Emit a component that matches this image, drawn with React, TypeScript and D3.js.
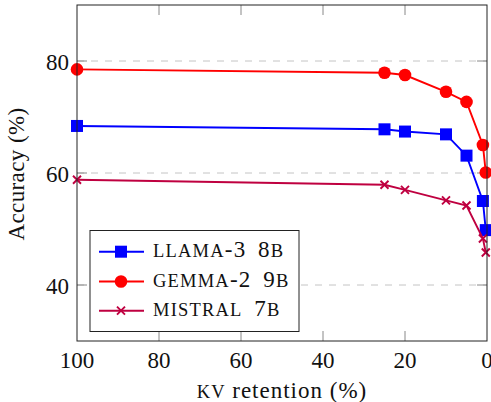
import React from "react";
import * as d3 from "d3";

const retention = [100, 25, 20, 10, 5, 1, 0.3];
const llama = [68.4, 67.8, 67.4, 66.9, 63.1, 55.0, 49.8];
const gemma = [78.5, 77.9, 77.5, 74.5, 72.7, 65.0, 60.1];
const mistral = [58.8, 57.9, 57.0, 55.1, 54.2, 48.3, 45.8];
const xTicks = [100, 80, 60, 40, 20, 0];
const yTicks = [40, 60, 80];
const seriesNames = ["LLAMA-3 8B", "GEMMA-2 9B", "MISTRAL 7B"];

const W = 491, H = 402;
const L = 77, R = 487, T = 5, B = 341;
const FONT = "Liberation Serif";
const FS = 23;
const SC = 18.5;

// render uppercase letters as small caps, other chars at full size; widen spaces
function smallCaps(str: string, wordGap: number, ls: number) {
  const parts: { t: string; sc: boolean }[] = [];
  for (const ch of str) {
    const sc = /[A-Z]/.test(ch);
    const last = parts[parts.length - 1];
    if (last && last.sc === sc && ch !== " " && !last.t.endsWith(" ")) last.t += ch;
    else parts.push({ t: ch, sc });
  }
  return parts.map((p, i) =>
    p.t === " " ? (
      <tspan key={i} dx={wordGap}>
        {" "}
      </tspan>
    ) : (
      <tspan key={i} fontSize={p.sc ? SC : FS} letterSpacing={ls}>
        {p.t}
      </tspan>
    )
  );
}

export default function App() {
  const x = d3.scaleLinear().domain([100, 0]).range([L, R]);
  const y = d3.scaleLinear().domain([30, 90]).range([B, T]);
  const series = [
    { name: seriesNames[0], values: llama, color: "#0000ff", marker: "square" },
    { name: seriesNames[1], values: gemma, color: "#ff0000", marker: "circle" },
    { name: seriesNames[2], values: mistral, color: "#bf0040", marker: "cross" },
  ];
  const line = d3
    .line<[number, number]>()
    .x((d) => x(d[0]))
    .y((d) => y(d[1]));

  const marker = (kind: string, cx: number, cy: number, color: string, key: string | number) => {
    if (kind === "square")
      return <rect key={key} x={cx - 6} y={cy - 6} width={12} height={12} fill={color} />;
    if (kind === "circle") return <circle key={key} cx={cx} cy={cy} r={6.3} fill={color} />;
    const s = 4;
    return (
      <path
        key={key}
        d={`M${cx - s},${cy - s}L${cx + s},${cy + s}M${cx - s},${cy + s}L${cx + s},${cy - s}`}
        stroke={color}
        strokeWidth={1.9}
        fill="none"
      />
    );
  };

  const legX = 90, legY = 230.5, legW = 209, legH = 101;
  const rowY = [251.7, 281.5, 310.7];
  const ts = { fontFamily: FONT } as React.CSSProperties;

  return (
    <svg
      width={W}
      height={H}
      style={{ position: "absolute", left: 0, top: 0, background: "#fff" }}
    >
      {yTicks.map((t) => (
        <line
          key={"g" + t}
          x1={L}
          x2={R}
          y1={y(t)}
          y2={y(t)}
          stroke="#c4c4c4"
          strokeWidth={1}
          strokeDasharray="7,7"
        />
      ))}
      {xTicks.slice(1, -1).map((t) => (
        <g key={"xt" + t} stroke="#888" strokeWidth={1}>
          <line x1={x(t)} x2={x(t)} y1={B} y2={B - 10} />
          <line x1={x(t)} x2={x(t)} y1={T} y2={T + 10} />
        </g>
      ))}
      {yTicks.map((t) => (
        <g key={"yt" + t} stroke="#888" strokeWidth={1}>
          <line x1={L} x2={L + 10} y1={y(t)} y2={y(t)} />
          <line x1={R} x2={R - 10} y1={y(t)} y2={y(t)} />
        </g>
      ))}
      {series.map((s) => {
        const pts = retention.map((r, i) => [r, s.values[i]] as [number, number]);
        return (
          <g key={s.name}>
            <path d={line(pts) || ""} fill="none" stroke={s.color} strokeWidth={1.9} />
            {pts.map((p, i) => marker(s.marker, x(p[0]), y(p[1]), s.color, i))}
          </g>
        );
      })}
      <rect x={L} y={T} width={R - L} height={B - T} fill="none" stroke="#222" strokeWidth={1} />
      {xTicks.map((t) => (
        <text
          key={"xl" + t}
          x={x(t)}
          y={368}
          textAnchor="middle"
          fontSize={FS}
          fill="#111"
          style={ts}
        >
          {t}
        </text>
      ))}
      {yTicks.map((t) => (
        <text
          key={"yl" + t}
          x={69}
          y={y(t) + 8.8}
          textAnchor="end"
          fontSize={FS}
          fill="#111"
          style={ts}
        >
          {t}
        </text>
      ))}
      <text
        x={(L + R) / 2}
        y={398}
        textAnchor="middle"
        fontSize={FS}
        fill="#111"
        style={ts}
        letterSpacing={1}
      >
        <tspan fontSize={SC}>KV</tspan> retention (%)
      </text>
      <text
        transform={`translate(23.5,${(T + B) / 2 + 1}) rotate(-90)`}
        textAnchor="middle"
        fontSize={FS}
        fill="#111"
        style={ts}
        letterSpacing={0.4}
      >
        Accuracy (%)
      </text>
      <rect x={legX} y={legY} width={legW} height={legH} fill="#fff" stroke="#222" strokeWidth={1} />
      {series.map((s, i) => (
        <g key={"leg" + i}>
          <line x1={99} x2={144} y1={rowY[i]} y2={rowY[i]} stroke={s.color} strokeWidth={1.9} />
          {marker(s.marker, 121, rowY[i], s.color, "m")}
          <text x={153} y={rowY[i] + 5.5} fontSize={FS} fill="#111" style={ts}>
            {smallCaps(s.name, 6, 1.2)}
          </text>
        </g>
      ))}
    </svg>
  );
}
